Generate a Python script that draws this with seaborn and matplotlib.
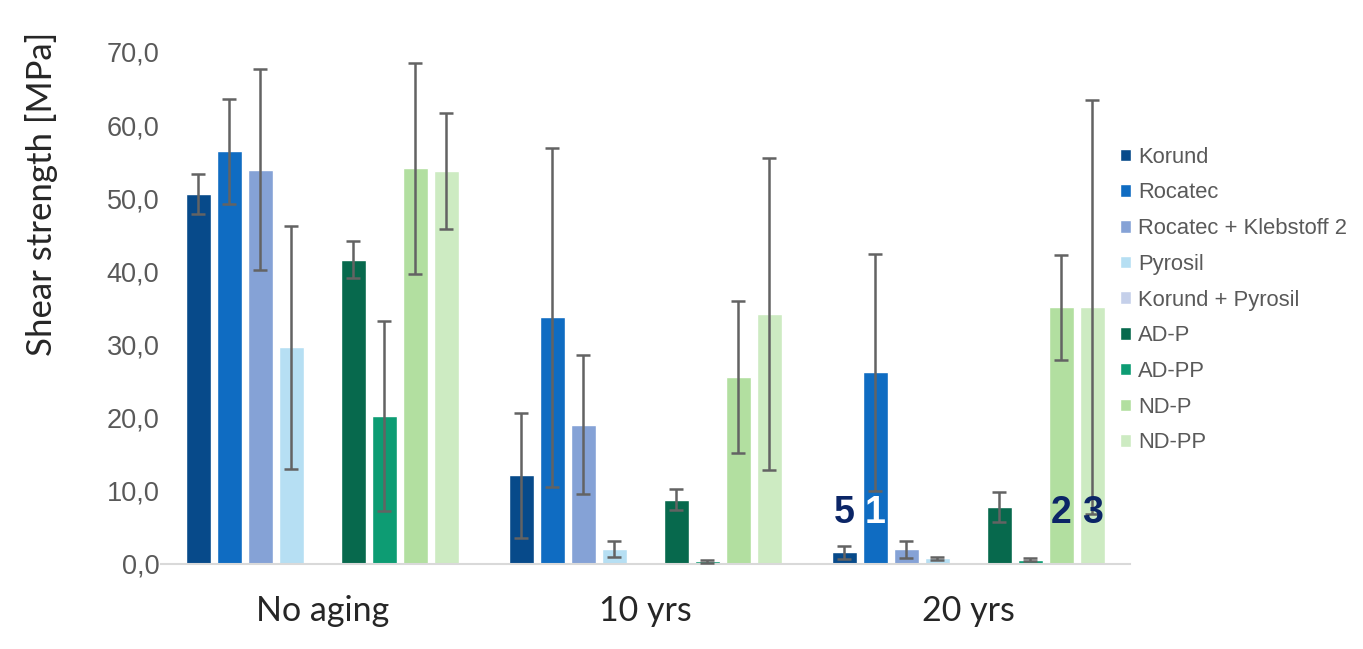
import pandas as pd
import numpy as np
import matplotlib.pyplot as plt
import seaborn as sns
from matplotlib.patches import Patch
from matplotlib.colors import to_hex
from matplotlib.ticker import FuncFormatter

# Daten
groups = ['No aging', '10 yrs', '20 yrs']
methods = ['Korund', 'Rocatec', 'Rocatec + Klebstoff 2', 'Pyrosil', 'Korund + Pyrosil',
           'AD-P', 'AD-PP', 'ND-P', 'ND-PP']
colors = ['#074A8A', '#0F6CC2', '#85A2D6', '#B6DFF3', '#C5D0EA',
          '#07694D', '#0D9C73', '#B2DFA0', '#CDEBC2']

korund = [50.6, 12.1, 1.6]
rocatec = [56.4, 33.7, 26.2]
rocatec_k2 = [53.9, 19.0, 2.0]
pyrosil = [29.6, 2.1, 0.8]
korund_pyrosil = [np.nan, np.nan, np.nan]
ad_p = [41.6, 8.8, 7.8]
ad_pp = [20.2, 0.4, 0.6]
nd_p = [54.1, 25.6, 35.1]
nd_pp = [53.7, 34.2, 35.1]

err_korund = [2.7, 8.6, 0.9]
err_rocatec = [7.2, 23.2, 16.2]
err_rocatec_k2 = [13.7, 9.5, 1.2]
err_pyrosil = [16.6, 1.1, 0.2]
err_korund_pyrosil = [np.nan, np.nan, np.nan]
err_ad_p = [2.5, 1.4, 2.0]
err_ad_pp = [13.0, 0.2, 0.2]
err_nd_p = [14.4, 10.4, 7.2]
err_nd_pp = [7.9, 21.3, 28.3]

# Anzahl-Markierungen in der 20-yrs-Gruppe
marks = {'Korund': '5', 'Rocatec': '1', 'ND-P': '2', 'ND-PP': '3'}
mark_y = 7.0

values = [korund, rocatec, rocatec_k2, pyrosil, korund_pyrosil, ad_p, ad_pp, nd_p, nd_pp]
errors = [err_korund, err_rocatec, err_rocatec_k2, err_pyrosil, err_korund_pyrosil,
          err_ad_p, err_ad_pp, err_nd_p, err_nd_pp]

rows = []
for m, vals, errs in zip(methods, values, errors):
    for g, v, e in zip(groups, vals, errs):
        rows.append({'group': g, 'method': m, 'value': v, 'err': e})
df = pd.DataFrame(rows)
df_plot = df.dropna(subset=['value'])

sns.set_style('white')
plt.rcParams['font.family'] = ['Liberation Sans', 'DejaVu Sans']

fig = plt.figure(figsize=(13.63, 6.49), dpi=100)
ax = fig.add_axes([0.118, 0.131, 0.711, 0.789])

sns.barplot(data=df_plot, x='group', y='value', hue='method',
            order=groups, hue_order=methods, palette=dict(zip(methods, colors)),
            width=0.864, gap=0.2, errorbar=None, saturation=1, legend=False, ax=ax)

# Fehlerbalken an den von seaborn berechneten Balkenpositionen (Zuordnung über Farbe)
color_to_method = {c.lower(): m for m, c in zip(methods, colors)}
for bar in ax.patches:
    m = color_to_method.get(to_hex(bar.get_facecolor()).lower())
    if m is None:
        continue
    xc = bar.get_x() + bar.get_width() / 2
    g = groups[int(round(xc))]
    sub = df[df['method'] == m].set_index('group')
    ax.errorbar(xc, sub.loc[g, 'value'], yerr=sub.loc[g, 'err'], fmt='none',
                ecolor='#636363', elinewidth=1.8, capsize=5, capthick=1.8, zorder=5)
    if g == '20 yrs' and m in marks:
        ax.text(xc, mark_y, marks[m], ha='center', va='center', fontsize=27,
                fontweight='bold', color='white' if m == 'Rocatec' else '#0B2566',
                zorder=6)

ax.set_xlim(-0.5, 2.5)
ax.set_ylim(0, 70)
ax.set_yticks(np.arange(0, 71, 10))
ax.yaxis.set_major_formatter(FuncFormatter(lambda v, p: f'{v:.1f}'.replace('.', ',')))
ax.tick_params(axis='y', labelsize=19.5, labelcolor='#595959', length=0, pad=1)
ax.tick_params(axis='x', labelsize=24.5, length=0, pad=22)
for lab in ax.get_xticklabels():
    lab.set_family(['Lato', 'DejaVu Sans'])
ax.set_xlabel('')
ax.set_ylabel('Shear strength [MPa]', fontsize=25, family=['Lato', 'DejaVu Sans'])
ax.yaxis.set_label_coords(-0.106, 0.723)

sns.despine(ax=ax, left=True, top=True, right=True)
ax.spines['bottom'].set_color('#D9D9D9')
ax.spines['bottom'].set_linewidth(1.5)

handles = [Patch(facecolor=c, label=m) for m, c in zip(methods, colors)]
leg = ax.legend(handles=handles, loc='upper left', bbox_to_anchor=(0.981, 0.832),
                frameon=False, fontsize=15.8, labelcolor='#595959', handlelength=0.5,
                handleheight=0.5, handletextpad=0.3, labelspacing=0.67,
                borderaxespad=0.0)

fig.savefig('out.png', dpi=100)
